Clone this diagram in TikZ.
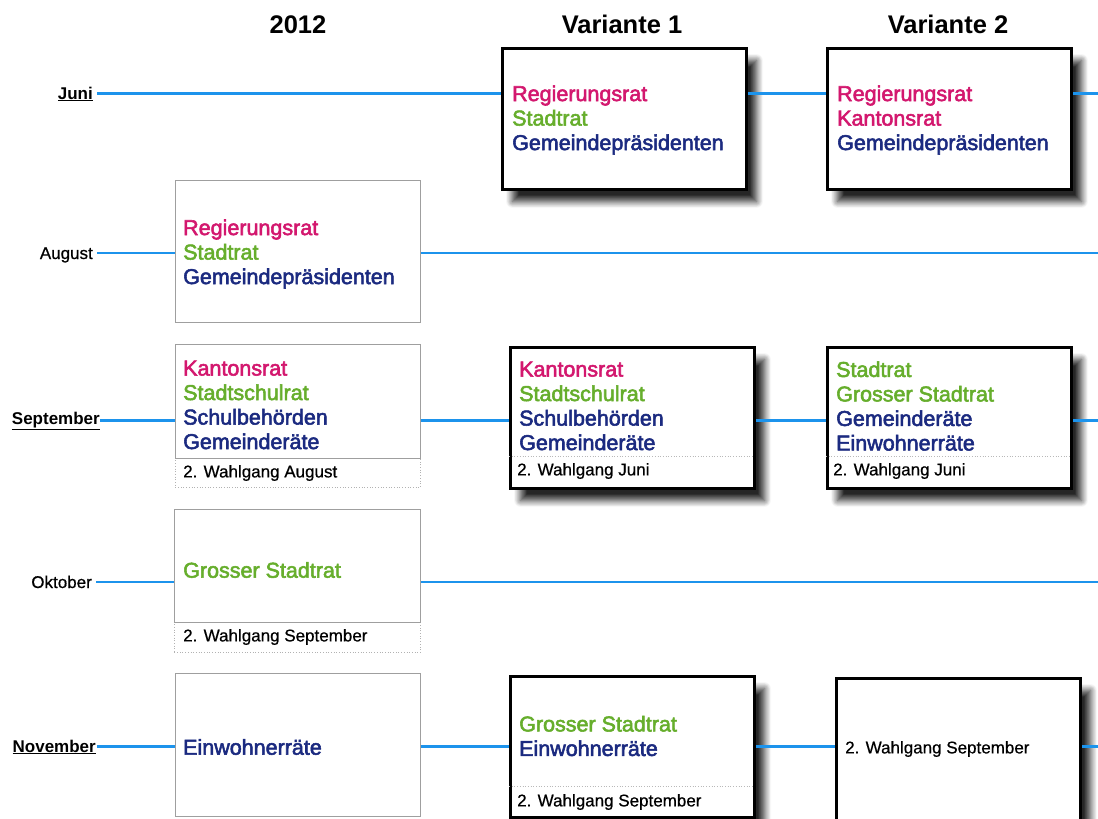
\documentclass[tikz,border=0pt]{standalone}
\usepackage{fontspec}
\setmainfont{Liberation Sans}
\newfontfamily\medfont[FakeBold=2.5]{Liberation Sans}
\newfontfamily\smallfont[FakeBold=0.6]{Liberation Sans}
\usetikzlibrary{shadows.blur,backgrounds}
\definecolor{lineblue}{HTML}{1C93EC}
\definecolor{regcol}{HTML}{D3176E}
\definecolor{grcol}{HTML}{66AE2C}
\definecolor{blcol}{HTML}{1B2A80}
\tikzset{
  thickline/.style={line width=3pt, draw=lineblue},
  thinline/.style={line width=1.3pt, draw=lineblue},
  oldbox/.style={draw=gray!75, line width=0.8pt, fill=white, anchor=north west, inner sep=0pt},
  oldsub/.style={draw=gray!60, dotted, line width=0.7pt, fill=white, anchor=north west, inner sep=0pt},
  varbox/.style={draw=black, line width=3pt, fill=white, anchor=north west, inner sep=0pt,
    blur shadow={shadow xshift=10pt, shadow yshift=-12pt, shadow blur radius=6.5pt, shadow opacity=85, shadow blur steps=12}},
  sepline/.style={draw=gray!55, dotted, line width=0.7pt},
  bigtxt/.style={font=\medfont\fontsize{21.5}{24.5}\selectfont, align=left, anchor=west, inner sep=0pt},
  smalltxt/.style={font=\smallfont\fontsize{17}{20}\selectfont, anchor=west, inner sep=0pt},
  head/.style={font=\bfseries\fontsize{25.5}{30}\selectfont, anchor=base, inner sep=0pt},
  monthb/.style={font=\bfseries\fontsize{17}{20}\selectfont, anchor=base east, inner sep=0pt},
  monthn/.style={font=\smallfont\fontsize{17}{20}\selectfont, anchor=base east, inner sep=0pt},
}
\newcommand{\rg}[1]{\textcolor{regcol}{#1}}
\newcommand{\gr}[1]{\textcolor{grcol}{#1}}
\newcommand{\bl}[1]{\textcolor{blcol}{#1}}
\begin{document}
\begin{tikzpicture}[x=1pt,y=-1pt]
\useasboundingbox (0,0) rectangle (1098,819);
% headers
\node[head] (h0) at (298,34) {2012};
\node[head] (h1) at (622,34) {Variante 1};
\node[head] (h2) at (948,34) {Variante 2};
% month labels
\node[monthb] (mJun) at (93,99) {\underline{Juni}};
\node[monthn] (mAug) at (93,259) {August};
\node[monthb] (mSep) at (100,424) {\underline{September}};
\node[monthn] (mOkt) at (92,588) {Oktober};
\node[monthb] (mNov) at (96,752) {\underline{November}};
% right edge coordinates
\coordinate (eJun) at (1098,93);
\coordinate (eAug) at (1098,253);
\coordinate (eSep) at (1098,420);
\coordinate (eOkt) at (1098,582);
\coordinate (eNov) at (1098,746);

% ---- 2012 column
\node[oldbox, minimum width=245pt, minimum height=142pt] (a8) at (175,180) {};
\node[bigtxt] (a8t) at (183,254) {\rg{Regierungsrat}\\\gr{Stadtrat}\\\bl{Gemeindepräsidenten}};

\node[oldsub, minimum width=245pt, minimum height=29pt] (s9sub) at (175,458) {};
\node[oldbox, minimum width=245pt, minimum height=114pt] (s9) at (175,344) {};
\node[bigtxt] (s9t) at (183,405) {\rg{Kantonsrat}\\\gr{Stadtschulrat}\\\bl{Schulbehörden}\\\bl{Gemeinderäte}};
\node[smalltxt] (s9s) at (183,473) {2. Wahlgang August};

\node[oldsub, minimum width=246pt, minimum height=30pt] (o10sub) at (174,622) {};
\node[oldbox, minimum width=246pt, minimum height=113pt] (o10) at (174,509) {};
\node[bigtxt] (o10t) at (183,570) {\gr{Grosser Stadtrat}};
\node[smalltxt] (o10s) at (183,637) {2. Wahlgang September};

\node[oldbox, minimum width=245pt, minimum height=143pt] (n11) at (175,673) {};
\node[bigtxt] (n11t) at (183,747) {\bl{Einwohnerräte}};

% ---- Variante 1
\node[varbox, minimum width=244pt, minimum height=141pt] (v1j) at (501,47) {};
\node[bigtxt] (v1jt) at (512,120) {\rg{Regierungsrat}\\\gr{Stadtrat}\\\bl{Gemeindepräsidenten}};

\node[varbox, minimum width=244pt, minimum height=141pt] (v1s) at (509,346) {};
\draw[sepline] (509,456) -- (753,456);
\node[bigtxt] (v1st) at (519,406) {\rg{Kantonsrat}\\\gr{Stadtschulrat}\\\bl{Schulbehörden}\\\bl{Gemeinderäte}};
\node[smalltxt] (v1ss) at (517,471) {2. Wahlgang Juni};

\node[varbox, minimum width=244pt, minimum height=141pt] (v1n) at (509,675) {};
\draw[sepline] (509,786) -- (753,786);
\node[bigtxt] (v1nt) at (519,736) {\gr{Grosser Stadtrat}\\\bl{Einwohnerräte}};
\node[smalltxt] (v1ns) at (517,802) {2. Wahlgang September};

% ---- Variante 2
\node[varbox, minimum width=244pt, minimum height=141pt] (v2j) at (826,47) {};
\node[bigtxt] (v2jt) at (837,120) {\rg{Regierungsrat}\\\rg{Kantonsrat}\\\bl{Gemeindepräsidenten}};

\node[varbox, minimum width=244pt, minimum height=141pt] (v2s) at (826,346) {};
\draw[sepline] (826,456) -- (1070,456);
\node[bigtxt] (v2st) at (836,406) {\gr{Stadtrat}\\\gr{Grosser Stadtrat}\\\bl{Gemeinderäte}\\\bl{Einwohnerräte}};
\node[smalltxt] (v2ss) at (833,471) {2. Wahlgang Juni};

\node[varbox, minimum width=244pt, minimum height=143pt] (v2n) at (835,677) {};
\node[smalltxt] (v2nt) at (845,749) {2. Wahlgang September};

% ---- connectors: incoming segments behind boxes
\begin{pgfonlayer}{background}
\draw[thickline] ([xshift=4pt]mJun.east |- eJun) -- (eJun -| v1j.west);
\draw[thinline] ([xshift=4pt]mAug.east |- eAug) -- (eAug -| a8.west);
\draw[thickline] (mSep.east |- eSep) -- (eSep -| s9.west);
\draw[thinline] ([xshift=4pt]mOkt.east |- eOkt) -- (eOkt -| o10.west);
\draw[thickline] ([xshift=1pt]mNov.east |- eNov) -- (eNov -| n11.west);
\end{pgfonlayer}
% outgoing segments over shadows
\draw[thickline] (eJun -| v1j.east) -- (eJun -| v2j.west);
\draw[thickline] (eJun -| v2j.east) -- (eJun);
\draw[thinline] (eAug -| a8.east) -- (eAug);
\draw[thickline] (eSep -| s9.east) -- (eSep -| v1s.west);
\draw[thickline] (eSep -| v1s.east) -- (eSep -| v2s.west);
\draw[thickline] (eSep -| v2s.east) -- (eSep);
\draw[thinline] (eOkt -| o10.east) -- (eOkt);
\draw[thickline] (eNov -| n11.east) -- (eNov -| v1n.west);
\draw[thickline] (eNov -| v1n.east) -- (eNov -| v2n.west);
\draw[thickline] (eNov -| v2n.east) -- (eNov);
\end{tikzpicture}
\end{document}
